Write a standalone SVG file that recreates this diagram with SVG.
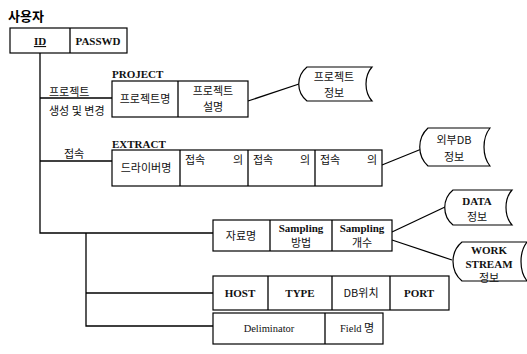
<svg xmlns="http://www.w3.org/2000/svg" width="527" height="354" viewBox="0 0 527 354">
<style>
.box{fill:#fff;stroke:#000;stroke-width:1.2}
.ln{fill:none;stroke:#000;stroke-width:1.3}
.doc{fill:#fff;stroke:#000;stroke-width:1.2}
.ko{font-family:"Noto Sans CJK KR","Noto Sans",sans-serif;font-size:11px;fill:#111}
.en{font-family:"Liberation Serif",serif;font-size:11px;font-weight:bold;fill:#111}
.enr{font-family:"Liberation Serif",serif;font-size:10.5px;fill:#111}
.ttl{font-family:"Noto Sans CJK KR",sans-serif;font-size:13px;font-weight:bold;fill:#000}
</style>
<rect width="527" height="354" fill="#fff"/>
<g id="connectors">
<path class="ln" d="M40 53 V233 H213"/>
<path class="ln" d="M40 98 H112"/>
<path class="ln" d="M40 161 H112"/>
<path class="ln" d="M86 233 V326 H213"/>
<path class="ln" d="M86 293 H213"/>
<path class="ln" d="M248 101 L302 83"/>
<path class="ln" d="M382 165 L424 148"/>
<path class="ln" d="M392 232 L445 207"/>
<path class="ln" d="M392 240 L452 260"/>
<text class="ko" x="49" y="96" font-size="10">프로젝트</text>
<text class="ko" x="49" y="115" font-size="10">생성 및 변경</text>
<text class="ko" x="64" y="158" font-size="10">접속</text>
</g>
<g id="user">
<text class="ttl" x="8" y="21">사용자</text>
<rect class="box" x="10" y="28" width="117" height="25"/>
<line class="ln" x1="70" y1="28" x2="70" y2="53"/>
<text class="en" x="40" y="45" text-anchor="middle" text-decoration="underline">ID</text>
<text class="en" x="98" y="45" text-anchor="middle">PASSWD</text>
</g>
<g id="project">
<text class="en" x="112" y="78">PROJECT</text>
<rect class="box" x="112" y="81" width="136" height="36"/>
<line class="ln" x1="178" y1="81" x2="178" y2="117"/>
<text class="ko" x="145" y="103" text-anchor="middle">프로젝트명</text>
<text class="ko" x="213" y="95" text-anchor="middle" font-size="10">프로젝트</text>
<text class="ko" x="213" y="111" text-anchor="middle" font-size="10">설명</text>
</g>
<g id="project-info">
<path class="doc" d="M307 67 H372 C364 76 364 92 372 101 H307 C296 92 296 76 307 67 Z"/>
<text class="ko" x="334" y="81" text-anchor="middle">프로젝트</text>
<text class="ko" x="334" y="97" text-anchor="middle">정보</text>
</g>
<g id="extract">
<text class="en" x="112" y="148">EXTRACT</text>
<rect class="box" x="112" y="150" width="270" height="36"/>
<line class="ln" x1="180" y1="150" x2="180" y2="186"/>
<line class="ln" x1="248" y1="150" x2="248" y2="186"/>
<line class="ln" x1="315" y1="150" x2="315" y2="186"/>
<text class="ko" x="146" y="172" text-anchor="middle">드라이버명</text>
<text class="ko" x="185" y="164" font-size="10">접속</text>
<text class="ko" x="233" y="164" font-size="10">의</text>
<text class="ko" x="253" y="164" font-size="10">접속</text>
<text class="ko" x="300" y="164" font-size="10">의</text>
<text class="ko" x="320" y="164" font-size="10">접속</text>
<text class="ko" x="367" y="164" font-size="10">의</text>
</g>
<g id="extdb-info">
<path class="doc" d="M428 128 H490 C482 138 482 156 490 166 H428 C417 156 417 138 428 128 Z"/>
<text class="ko" x="454" y="144" text-anchor="middle">외부DB</text>
<text class="ko" x="454" y="161" text-anchor="middle">정보</text>
</g>
<g id="data">
<rect class="box" x="213" y="220" width="179" height="31"/>
<line class="ln" x1="270" y1="220" x2="270" y2="251"/>
<line class="ln" x1="332" y1="220" x2="332" y2="251"/>
<text class="ko" x="241" y="240" text-anchor="middle">자료명</text>
<text class="en" x="301" y="232" text-anchor="middle" font-size="10.5">Sampling</text>
<text class="ko" x="301" y="247" text-anchor="middle" font-size="10">방법</text>
<text class="en" x="362" y="232" text-anchor="middle" font-size="10.5">Sampling</text>
<text class="ko" x="362" y="247" text-anchor="middle" font-size="10">개수</text>
</g>
<g id="data-info">
<path class="doc" d="M453 190 H512 C504 199 504 216 512 225 H453 C442 216 442 199 453 190 Z"/>
<text class="en" x="477" y="205" text-anchor="middle" font-size="11.5">DATA</text>
<text class="ko" x="477" y="221" text-anchor="middle">정보</text>
</g>
<g id="workstream-info">
<path class="doc" d="M462 242 H527 C519 252 519 271 527 281 H462 C450 271 450 252 462 242 Z"/>
<text class="en" x="489" y="254" text-anchor="middle" font-size="10.5">WORK</text>
<text class="en" x="489" y="268" text-anchor="middle" font-size="10.5">STREAM</text>
<text class="ko" x="489" y="282" text-anchor="middle" font-size="10">정보</text>
</g>
<g id="host">
<rect class="box" x="213" y="276" width="236" height="34"/>
<line class="ln" x1="268" y1="276" x2="268" y2="310"/>
<line class="ln" x1="332" y1="276" x2="332" y2="310"/>
<line class="ln" x1="390" y1="276" x2="390" y2="310"/>
<text class="en" x="240" y="297" text-anchor="middle">HOST</text>
<text class="en" x="300" y="297" text-anchor="middle">TYPE</text>
<text class="ko" x="361" y="297" text-anchor="middle" font-size="10">DB위치</text>
<text class="en" x="419" y="297" text-anchor="middle">PORT</text>
</g>
<g id="delim">
<rect class="box" x="213" y="313" width="170" height="31"/>
<line class="ln" x1="325" y1="313" x2="325" y2="344"/>
<text class="enr" x="269" y="332" text-anchor="middle">Deliminator</text>
<text class="enr" x="340" y="332">Field</text>
<text class="ko" x="364" y="332" font-size="10">명</text>
</g>
</svg>
